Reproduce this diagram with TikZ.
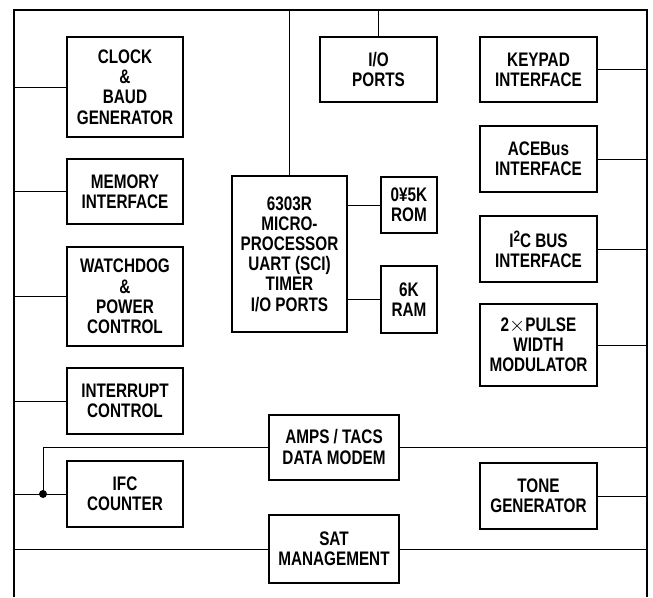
\documentclass[tikz,border=0pt]{standalone}
\usepackage{fontspec}
\setmainfont{Liberation Sans}[FakeStretch=0.78]
\usetikzlibrary{calc}

\begin{document}
\begin{tikzpicture}[x=1pt,y=-1pt,
  blk/.style={draw,line width=2pt,align=center,inner sep=0pt,
    font=\fontsize{19.6}{20.2}\selectfont\bfseries},
  colw/.style={blk,minimum width=116pt},
  bus/.style={line width=2pt},
  wire/.style={line width=1pt}]
\useasboundingbox (0,0) rectangle (653,597);
% frame
\coordinate (tl) at (14,10); \coordinate (tr) at (647,10);
\coordinate (bl) at (14,597); \coordinate (br) at (647,597);
\draw[bus] (bl)--(tl)--(tr)--(br);

% left column
\node[colw,minimum height=100pt] (clk) at (125,87) {CLOCK\\\&\\BAUD\\GENERATOR};
\node[colw,minimum height=65pt] (mem) at (125,191.5) {MEMORY\\INTERFACE};
\node[colw,minimum height=99pt] (wdog) at (125,296.5) {WATCHDOG\\\&\\POWER\\CONTROL};
\node[colw,minimum height=66pt] (intr) at (125,401) {INTERRUPT\\CONTROL};
\node[colw,minimum height=66pt] (ifc) at (125,494) {IFC\\COUNTER};

% middle
\node[blk,minimum width=117pt,minimum height=65pt] (io) at (378.5,69.5) {I/O\\PORTS};
\node[blk,minimum width=115pt,minimum height=156pt] (mpu) at (289.5,254)
  {6303R\\MICRO-\\PROCESSOR\\UART (SCI)\\TIMER\\I/O PORTS};
\node[blk,minimum width=56pt,minimum height=56pt] (rom) at (409,205) {0¥5K\\ROM};
\node[blk,minimum width=56pt,minimum height=67pt] (ram) at (409,299.5) {6K\\RAM};
\node[blk,minimum width=130pt,minimum height=65pt] (amps) at (334,447) {AMPS / TACS\\DATA MODEM};
\node[blk,minimum width=130pt,minimum height=68pt] (sat) at (334,549) {SAT\\MANAGEMENT};

% right column
\node[blk,minimum width=117pt,minimum height=65pt] (kbd) at (538.5,69.5) {KEYPAD\\INTERFACE};
\node[blk,minimum width=117pt,minimum height=66pt] (ace) at (538.5,159) {ACEBus\\INTERFACE};
\node[blk,minimum width=117pt,minimum height=66pt] (i2c) at (538.5,249)
  {I{\fontsize{15}{15}\selectfont\raisebox{6pt}{2}}C BUS\\INTERFACE};
\node[blk,minimum width=117pt,minimum height=82pt] (pwm) at (538.5,345)
  {2{\mdseries$\times$}PULSE\\WIDTH\\MODULATOR};
\node[blk,minimum width=117pt,minimum height=66pt] (tone) at (538.5,496) {TONE\\GENERATOR};

% connections
\foreach \n in {clk,mem,wdog,intr,ifc} \draw[wire] (\n.west) -- (\n.west -| tl);
\foreach \n in {kbd,ace,i2c,pwm,tone,amps,sat} \draw[wire] (\n.east) -- (\n.east -| tr);
\draw[wire] (sat.west) -- (sat.west -| tl);
\draw[wire] (mpu.north) -- (mpu.north |- tl);
\draw[wire] (io.north) -- (io.north |- tl);
\draw[wire] (rom.west) -- (rom.west -| mpu.east);
\draw[wire] (ram.west) -- (ram.west -| mpu.east);
\coordinate (dot) at (43,494);
\draw[wire] (amps.west) -- (amps.west -| dot) -- (dot);
\fill (dot) circle (4pt);
\end{tikzpicture}
\end{document}
